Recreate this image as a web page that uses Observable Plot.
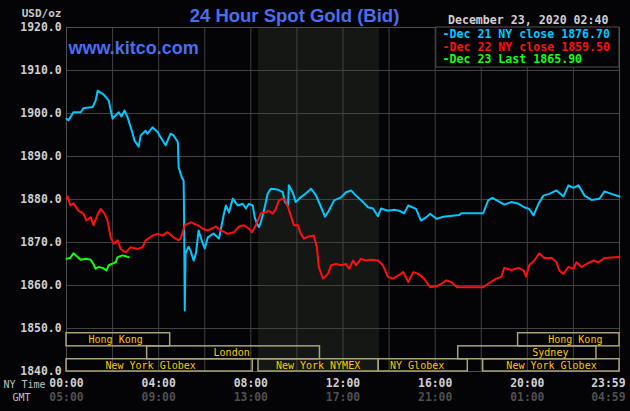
<!DOCTYPE html>
<html><head><meta charset="utf-8">
<script src="https://cdn.jsdelivr.net/npm/d3@7"></script>
<script src="https://cdn.jsdelivr.net/npm/@observablehq/plot@0.6"></script>
<style>html,body{margin:0;padding:0;background:#040306;overflow:hidden} svg{display:block}</style>
</head><body><div id="chart"></div>
<script>
// times in minutes after 00:00 NY time
const cyanTime = [0,5,18,37,44,68,76,81,97,110,117,120,136,143,151,159,170,177,188,193,206,211,224,237,245,258,271,279,290,292,300,305,306,308,310,313,318,323,331,337,344,352,360,368,383,397,410,415,423,433,446,459,467,475,485,490,496,501,506,514,524,532,550,563,569,577,579,590,597,610,623,637,650,663,673,683,697,715,728,741,754,772,785,798,811,819,837,853,866,879,890,910,923,937,947,963,981,1023,1028,1085,1098,1109,1124,1140,1158,1177,1192,1205,1216,1229,1242,1257,1276,1294,1307,1320,1333,1349,1367,1388,1401,1419,1440];
const cyanPrice = [1898.8,1898.4,1900.3,1900.3,1901.2,1901.5,1903,1905.3,1904.4,1903,1900,1898.8,1900.3,1899.3,1900.7,1899.1,1896,1893.7,1892.3,1894.9,1896,1895.3,1896.8,1895.7,1894.5,1892.6,1895.3,1894.9,1893.3,1887.5,1885.2,1884.4,1878.2,1854.2,1867.4,1868.1,1869,1868.1,1865.8,1867.4,1872.8,1870.5,1868.6,1871.2,1872.1,1870.9,1876.7,1878.6,1877,1880.2,1878.6,1879,1877.9,1879,1878.6,1875.9,1874.4,1873.6,1874.7,1877.4,1881.4,1882.5,1882.3,1881.7,1879.4,1878.6,1883.3,1881.4,1879.4,1880.5,1881.4,1882.5,1880.9,1878.2,1876,1877.4,1879.8,1880.5,1881.7,1882.1,1880.9,1879.4,1878.2,1877.9,1876.1,1877.9,1877.4,1877.6,1877.4,1876.8,1878.6,1877.8,1875.1,1875.9,1876.7,1875.5,1876,1876.4,1876.8,1876.8,1879.8,1880.4,1879.6,1878.8,1879.4,1879,1878.2,1877.8,1876.3,1879,1880.9,1881.3,1882.1,1880.7,1883.3,1882.7,1883.3,1880.9,1879.9,1880.2,1881.9,1881.3,1880.7];

const redTime = [0,3,10,18,31,44,52,63,70,81,89,99,107,115,123,133,141,154,167,185,198,206,224,237,250,263,279,292,297,308,323,342,355,368,389,402,420,436,449,462,475,483,493,506,519,527,537,545,553,563,569,577,584,592,603,608,618,631,644,652,657,668,681,689,702,715,728,736,746,754,767,780,793,811,824,837,850,863,877,890,903,916,931,947,963,976,989,1002,1017,1085,1098,1119,1132,1140,1158,1177,1190,1197,1205,1218,1231,1244,1263,1276,1283,1294,1307,1320,1328,1341,1354,1372,1385,1401,1440];
const redPrice = [1880.2,1880.7,1878.6,1879.1,1877.4,1876.7,1875.1,1875.9,1874,1876.5,1877.8,1876.7,1875.1,1871.2,1869.7,1870.5,1868.5,1867.7,1868.9,1868.5,1868.9,1870.5,1871.6,1872,1871.6,1872.4,1871.2,1870.5,1870.9,1874,1874.7,1874,1873.2,1872.8,1873.7,1872.8,1872,1872.4,1873.7,1874,1873.2,1872.4,1874,1876.8,1877,1877.4,1876.7,1877.8,1879.8,1880.2,1880,1878.2,1876.3,1874,1874,1872.4,1870.9,1871.4,1871.6,1868.9,1864.3,1861.6,1862.7,1864.7,1865,1864.7,1865,1863.9,1865.8,1864.7,1866.2,1865.8,1866,1865.8,1864.7,1862,1861.6,1862.3,1863.1,1860.8,1863.1,1862.7,1861.6,1859.6,1859.8,1860.4,1861.2,1860.8,1859.6,1859.6,1860.4,1861.6,1862,1864.1,1863.6,1864.1,1863.5,1862.1,1864.7,1865.8,1867.5,1866.4,1866.4,1865.4,1863.5,1862.7,1864.3,1863.9,1865.4,1864.3,1865,1865.8,1865.4,1866.4,1866.6];

const greenTime = [0,10,18,29,37,50,63,70,76,83,94,104,110,123,128,133,146,154,162];
const greenPrice = [1866.2,1866.4,1867.5,1866.6,1866,1866.2,1866,1865,1863.9,1864.3,1864.1,1863.5,1864.7,1865.2,1865.4,1866.6,1867,1866.8,1866.6];

const yTicks = [1840,1850,1860,1870,1880,1890,1900,1910,1920];
const xGrid = [0,120,240,360,480,600,720,840,960,1080,1200,1320,1440];
const xLabelAt = [0,240,480,720,960,1200];
const nyLabels = ["00:00","04:00","08:00","12:00","16:00","20:00"];
const gmtLabels = ["05:00","09:00","13:00","17:00","21:00","01:00"];
const lastNy = "23:59", lastGmt = "04:59";

const sessionNames = ["Hong Kong","London","New York Globex","New York NYMEX","NY Globex","New York Globex","Sydney","Hong Kong"];
const sessionStart = [0,210,0,500,813,1085,1020,1176];
const sessionEnd   = [270,660,485,813,1045,1440,1380,1440];
const sessionRow   = [0,1,2,2,2,2,1,0];
const sessionLabelAt = [128,430,219,655,913,1263,1260,1325];

const legendLabels = ["-Dec 21 NY close 1876.70","-Dec 22 NY close 1859.50","-Dec 23 Last 1865.90"];
const legendColors = ["#00c8ff","#ff1010","#10ff10"];

const nymexShade = [{x1: 500, x2: 815}];

// row layout (price units of the chart's y scale)
const rowTop = [1848.9, 1845.85, 1842.85];
const rowBottom = [1845.85, 1842.85, 1840];

const series = (t, p) => t.map((d, i) => ({t: d, p: p[i]}));
const cyan = series(cyanTime, cyanPrice);
const red = series(redTime, redPrice);
const green = series(greenTime, greenPrice);
const sessions = sessionNames.map((n, i) => ({
  name: n, x1: sessionStart[i], x2: sessionEnd[i],
  y1: rowBottom[sessionRow[i]], y2: rowTop[sessionRow[i]],
  lx: sessionLabelAt[i], ly: (rowBottom[sessionRow[i]] + rowTop[sessionRow[i]]) / 2
}));

const mono = "DejaVu Sans Mono";
const grid = "#424242";
const bold = {fontWeight: "bold", fontFamily: mono, lineAnchor: "middle"};

const chart = Plot.plot({
  width: 630, height: 411,
  marginTop: 27, marginRight: 11, marginBottom: 40, marginLeft: 66,
  style: {background: "#040306", fontFamily: mono, overflow: "visible"},
  x: {domain: [0, 1440], axis: null},
  y: {domain: [1840, 1920], axis: null},
  marks: [
    Plot.rect(nymexShade, {x1: "x1", x2: "x2", y1: 1840, y2: 1920, fill: "#141714"}),
    Plot.ruleY(yTicks, {stroke: grid, strokeWidth: 1}),
    Plot.ruleX(xGrid, {stroke: grid, strokeWidth: 1}),
    Plot.frame({stroke: "#505050"}),
    Plot.text(["www.kitco.com"], {frameAnchor: "top-left", dx: 2, dy: 21, textAnchor: "start", lineAnchor: "middle",
      fill: "#4a6ef0", fontSize: 18, fontWeight: "bold", fontFamily: "Liberation Sans", text: d => d}),
    Plot.line(cyan, {x: "t", y: "p", stroke: "#00c8ff", strokeWidth: 2}),
    Plot.line(red, {x: "t", y: "p", stroke: "#ff1010", strokeWidth: 2}),
    Plot.line(green, {x: "t", y: "p", stroke: "#10ff10", strokeWidth: 2}),
    Plot.rect(sessions, {x1: "x1", x2: "x2", y1: "y1", y2: "y2", fill: "none", stroke: "#a8a474", strokeWidth: 1.5}),
    Plot.text(sessions, {x: "lx", y: "ly", text: "name", fill: "#ffc800", fontSize: 10, fontFamily: mono}),
    // legend box
    Plot.rect([0], {x1: 963, x2: 1440, y1: 1910.7, y2: 1920, fill: "#040306", stroke: "#505050"}),
    ...legendLabels.map((l, i) => Plot.text([l], {frameAnchor: "top-right", dx: -177, dy: 7 + i * 12.5,
      textAnchor: "start", text: d => d, fill: legendColors[i], fontSize: 11.6, ...bold})),
    // y tick labels
    Plot.text(yTicks, {x: 0, y: d => d, dx: -5, textAnchor: "end", text: d => d.toFixed(1),
      fill: "#d0d0d0", fontSize: 11.4, ...bold}),
    Plot.text(["USD/oz"], {frameAnchor: "top-left", dx: -5, dy: -14, textAnchor: "end", text: d => d,
      fill: "#c8c8c8", fontSize: 11, ...bold}),
    // x labels
    Plot.text(xLabelAt, {x: d => d, frameAnchor: "bottom", dy: 12, text: (d, i) => nyLabels[i],
      fill: "#d0d0d0", fontSize: 11.4, ...bold}),
    Plot.text(xLabelAt, {x: d => d, frameAnchor: "bottom", dy: 26, text: (d, i) => gmtLabels[i],
      fill: "#505050", fontSize: 11.4, ...bold}),
    Plot.text([lastNy], {frameAnchor: "bottom-right", dx: 6, dy: 12, textAnchor: "end", text: d => d,
      fill: "#d0d0d0", fontSize: 11.4, ...bold}),
    Plot.text([lastGmt], {frameAnchor: "bottom-right", dx: 6, dy: 26, textAnchor: "end", text: d => d,
      fill: "#505050", fontSize: 11.4, ...bold}),
    Plot.text(["NY Time"], {frameAnchor: "bottom-left", dx: -63, dy: 13, textAnchor: "start", lineAnchor: "middle", text: d => d,
      fill: "#c0c0c0", fontSize: 10, fontFamily: mono}),
    Plot.text(["GMT"], {frameAnchor: "bottom-left", dx: -54, dy: 26, textAnchor: "start", lineAnchor: "middle", text: d => d,
      fill: "#c0c0c0", fontSize: 10, fontFamily: mono}),
    // title & date
    Plot.text(["24 Hour Spot Gold (Bid)"], {frameAnchor: "top-left", dx: 228, dy: -11, textAnchor: "middle", lineAnchor: "middle", text: d => d,
      fill: "#4a6ef0", fontSize: 18.5, fontWeight: "bold", fontFamily: "Liberation Sans"}),
    Plot.text(["December 23, 2020 02:40"], {frameAnchor: "top-right", dx: -11, dy: -7, textAnchor: "end", text: d => d,
      fill: "#d0d0d0", fontSize: 11.6, ...bold})
  ]
});

document.getElementById("chart").append(chart);
</script>
</body></html>
